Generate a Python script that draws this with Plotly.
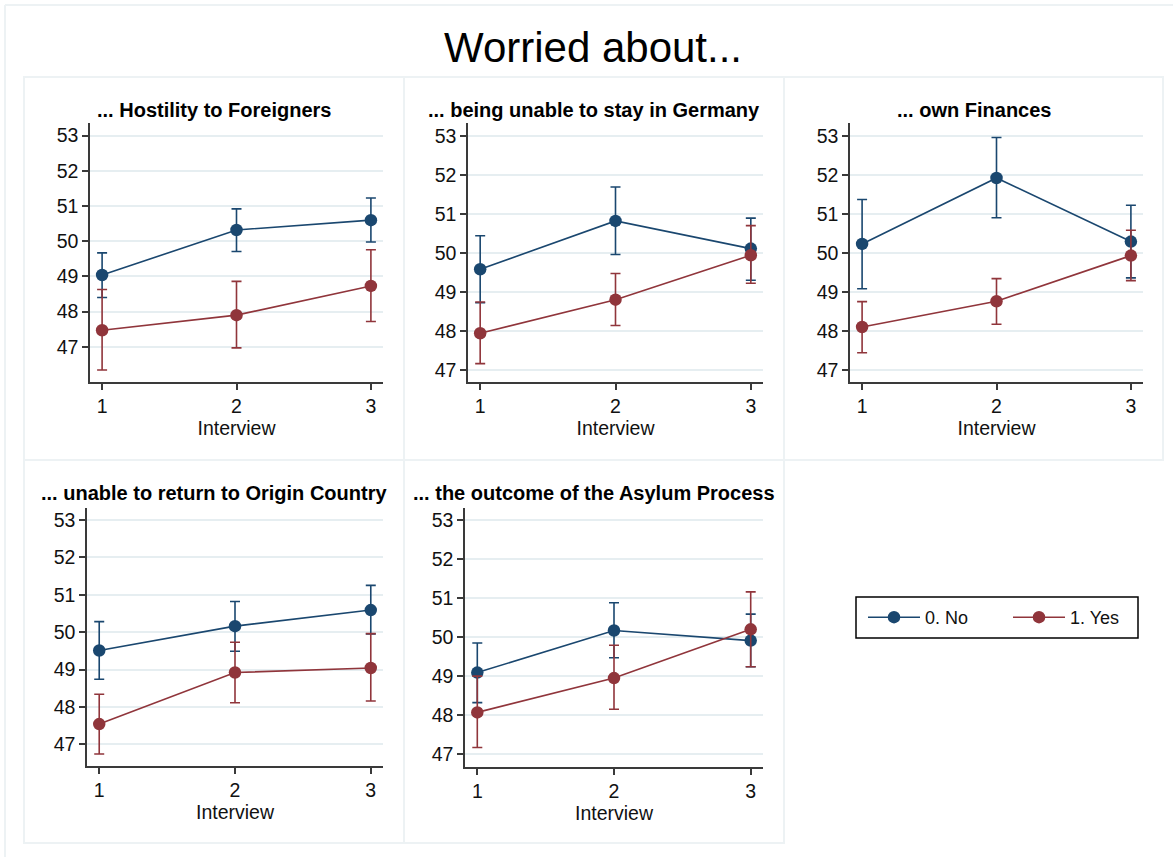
import plotly.graph_objects as go

W, H = 1173, 857

interview = [1, 2, 3]
panel_titles = [
    "... Hostility to Foreigners",
    "... being unable to stay in Germany",
    "... own Finances",
    "... unable to return to Origin Country",
    "... the outcome of the Asylum Process",
]
group_names = ["0. No", "1. Yes"]

# Means and 95% CI bounds, per panel
no_mean = [
    [49.04, 50.32, 50.60],
    [49.58, 50.82, 50.11],
    [50.23, 51.92, 50.29],
    [49.51, 50.16, 50.59],
    [49.09, 50.17, 49.91],
]
no_low = [
    [48.40, 49.71, 49.98],
    [48.72, 49.96, 49.30],
    [49.08, 50.90, 49.36],
    [48.74, 49.49, 49.95],
    [48.32, 49.47, 49.24],
]
no_high = [
    [49.67, 50.92, 51.23],
    [50.44, 51.69, 50.89],
    [51.37, 52.96, 51.22],
    [50.28, 50.82, 51.25],
    [49.85, 50.88, 50.59],
]
yes_mean = [
    [47.47, 47.90, 48.73],
    [47.94, 48.80, 49.94],
    [48.10, 48.76, 49.93],
    [47.54, 48.92, 49.04],
    [48.07, 48.95, 50.20],
]
yes_low = [
    [46.34, 46.97, 47.72],
    [47.16, 48.14, 49.22],
    [47.44, 48.17, 49.29],
    [46.74, 48.11, 48.16],
    [47.17, 48.15, 49.24],
]
yes_high = [
    [48.63, 48.86, 49.76],
    [48.74, 49.47, 50.70],
    [48.75, 49.34, 50.58],
    [48.34, 49.73, 49.96],
    [49.00, 49.79, 51.16],
]
y_ticks = [47, 48, 49, 50, 51, 52, 53]

# Layout geometry (pixels)
plot_boxes = [  # x0, x1, ytop, ybottom
    (90, 383, 123, 382),
    (468, 763, 123, 382),
    (850, 1143, 123, 382),
    (87, 383, 508, 766),
    (465, 763, 508, 767),
]
y_ranges = [
    [46.0, 53.36],
    [46.69, 53.33],
    [46.69, 53.33],
    [46.42, 53.32],
    [46.67, 53.31],
]
panel_frames = [
    (24, 404, 77, 460),
    (404, 784, 77, 460),
    (784, 1163, 77, 460),
    (24, 404, 460, 843),
    (404, 784, 460, 843),
]
legend_box = (856, 1138, 597, 638)

BLUE = "#1a476f"
RED = "#90353b"
FONT = "Liberation Sans, Arial, sans-serif"


def px(x):
    return x / W


def py(y):
    return 1 - y / H


fig = go.Figure()

series = [
    (group_names[0], no_mean, no_low, no_high, BLUE),
    (group_names[1], yes_mean, yes_low, yes_high, RED),
]

for i in range(5):
    ax = "" if i == 0 else str(i + 1)
    for gi, (name, mean, low, high, col) in enumerate(series):
        m = mean[i]
        up = [h - v for h, v in zip(high[i], m)]
        dn = [v - l for v, l in zip(m, low[i])]
        fig.add_trace(go.Scatter(
            x=interview, y=m, mode="lines+markers", name=name,
            line=dict(color=col, width=1.6),
            marker=dict(color=col, size=12.5, line=dict(width=0)),
            error_y=dict(type="data", symmetric=False, array=up, arrayminus=dn,
                         color=col, thickness=1.6, width=5),
            xaxis="x" + ax, yaxis="y" + ax,
            showlegend=(i == 0), legendgroup=name,
        ))
    x0, x1, yt, yb = plot_boxes[i]
    axis_common = dict(
        showline=True, linecolor="#3a3a3a", linewidth=1.5,
        ticks="outside", ticklen=6, tickwidth=1.5, tickcolor="#3a3a3a",
        tickfont=dict(family=FONT, size=19.5, color="#111111"),
        zeroline=False, mirror=False,
    )
    fig.layout["xaxis" + ax] = dict(
        domain=[px(x0), px(x1)], anchor="y" + ax,
        range=[0.91, 3.09], tickvals=interview, showgrid=False,
        title=dict(text="Interview", font=dict(family=FONT, size=19.5, color="#111111"), standoff=0),
        **axis_common,
    )
    fig.layout["yaxis" + ax] = dict(
        domain=[py(yb), py(yt)], anchor="x" + ax,
        range=y_ranges[i], tickvals=y_ticks, showgrid=True,
        gridcolor="#e6eef1", gridwidth=1.5,
        **axis_common,
    )

shapes = []
# outer frame (top and left edges visible)
shapes.append(dict(type="line", xref="paper", yref="paper", x0=px(5), x1=1.0, y0=py(5), y1=py(5),
                   line=dict(color="#edf2f4", width=2)))
shapes.append(dict(type="line", xref="paper", yref="paper", x0=px(5), x1=px(5), y0=py(5), y1=0,
                   line=dict(color="#edf2f4", width=2)))
for (a, b, t, bt) in panel_frames:
    shapes.append(dict(type="rect", xref="paper", yref="paper", x0=px(a), x1=px(b), y0=py(bt), y1=py(t),
                       line=dict(color="#edf2f4", width=2), layer="below"))
la, lb, lt, lbt = legend_box
shapes.append(dict(type="rect", xref="paper", yref="paper", x0=px(la), x1=px(lb), y0=py(lbt), y1=py(lt),
                   line=dict(color="#000000", width=1.5), fillcolor="white", layer="below"))

annotations = [dict(text="Worried about...", x=px(593), y=py(48), xref="paper", yref="paper",
                    showarrow=False, xanchor="center", yanchor="middle",
                    font=dict(family=FONT, size=42, color="#000000"))]
for i, (a, b, t, bt) in enumerate(panel_frames):
    ty = 110 if i < 3 else 493
    annotations.append(dict(text="<b>" + panel_titles[i] + "</b>", x=px((a + b) / 2), y=py(ty),
                            xref="paper", yref="paper", showarrow=False,
                            xanchor="center", yanchor="middle",
                            font=dict(family=FONT, size=20, color="#000000")))

fig.update_layout(
    width=W, height=H, margin=dict(l=0, r=0, t=0, b=0, autoexpand=False),
    paper_bgcolor="white", plot_bgcolor="white",
    shapes=shapes, annotations=annotations,
    showlegend=True,
    legend=dict(orientation="h", x=px(863), y=py((lt + lbt) / 2), xanchor="left", yanchor="middle",
                borderwidth=0, bgcolor="rgba(0,0,0,0)",
                font=dict(family=FONT, size=18, color="#111111"),
                entrywidth=78, itemwidth=52, tracegroupgap=0,
                traceorder="normal"),
)

fig.write_html("out.html", config={"displayModeBar": False},
               post_script="document.body.style.margin='0px';")
